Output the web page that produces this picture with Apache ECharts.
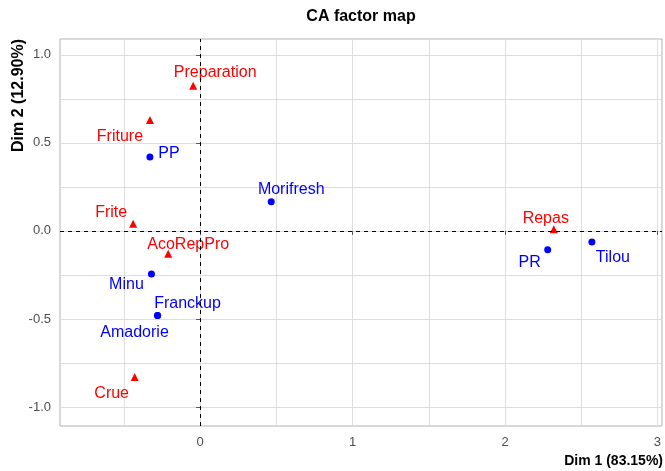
<!DOCTYPE html>
<html>
<head>
<meta charset="utf-8">
<script src="https://cdn.jsdelivr.net/npm/echarts@6/dist/echarts.min.js"></script>
<style>html,body{margin:0;padding:0;background:#fff}#c{width:665px;height:471px}</style>
</head>
<body>
<div id="c"></div>
<script>
// Row points (blue dots)
const rowNames = ['PP', 'Morifresh', 'Minu', 'Franckup', 'Amadorie', 'PR', 'Tilou'];
const rowDim1 = [-0.33, 0.466, -0.32, -0.28, -0.28, 2.28, 2.57];
const rowDim2 = [0.42, 0.165, -0.245, -0.48, -0.48, -0.107, -0.063];
// Column points (red triangles)
const colNames = ['Preparation', 'Friture', 'Frite', 'AcoRepPro', 'Crue', 'Repas'];
const colDim1 = [-0.046, -0.33, -0.44, -0.21, -0.43, 2.32];
const colDim2 = [0.824, 0.63, 0.04, -0.13, -0.83, 0.01];
// Axis breaks
const xMajor = [0, 1, 2, 3];
const xMinor = [-0.5, 0.5, 1.5, 2.5];
const yMajor = [-1, -0.5, 0, 0.5, 1];
const yMinor = [-0.75, -0.25, 0.25, 0.75];
const xRange = [-0.92, 3.03];
const yRange = [-1.108, 1.09];

// label placement (layout only, pixel offsets of label centre from point)
const labelOffset = {
  'Preparation': [22, -13], 'Friture': [-30, 17], 'PP': [19, -3], 'Frite': [-22, -11],
  'AcoRepPro': [20, -9], 'Minu': [-25, 11], 'Franckup': [30, -12], 'Amadorie': [-23, 17],
  'Crue': [-23, 17], 'Morifresh': [20, -12], 'Repas': [-8, -11], 'PR': [-18, 13], 'Tilou': [21, 16]
};

function pts(names, xs, ys, color) {
  return names.map((n, i) => ({
    name: n,
    value: [xs[i], ys[i]],
    label: {
      show: true, formatter: n, position: 'inside', offset: labelOffset[n],
      color: color, fontSize: 16, fontFamily: 'Liberation Sans, Arial, sans-serif',
      align: 'center', verticalAlign: 'middle', opacity: 1
    }
  }));
}

const grid = { left: 60, right: 3, top: 39, bottom: 45, show: true, borderColor: '#b3b3b3', borderWidth: 1, backgroundColor: '#fff' };
const tickLabel = { color: '#4d4d4d', fontSize: 13, fontFamily: 'Liberation Sans, Arial, sans-serif' };
const gridLine = { show: true, lineStyle: { color: '#dedede', width: 1 } };
const tickLine = { color: '#555', width: 1 };

const chart = echarts.init(document.getElementById('c'), null, { renderer: 'canvas' });
chart.setOption({
  animation: false,
  grid: grid,
  xAxis: [
    {
      type: 'value', min: xRange[0], max: xRange[1],
      axisLine: { show: false },
      axisTick: { show: true, length: 4, lineStyle: tickLine, customValues: xMajor },
      axisLabel: Object.assign({ customValues: xMajor, margin: 10, formatter: v => String(v) }, tickLabel),
      splitLine: gridLine
    },
    {
      type: 'value', min: xRange[0], max: xRange[1], position: 'bottom',
      axisLine: { show: false },
      axisTick: { show: false, customValues: xMinor },
      axisLabel: { show: false, customValues: xMinor },
      splitLine: gridLine
    }
  ],
  yAxis: [
    {
      type: 'value', min: yRange[0], max: yRange[1],
      axisLine: { show: false },
      axisTick: { show: true, length: 4, lineStyle: tickLine, customValues: yMajor },
      axisLabel: Object.assign({ customValues: yMajor, margin: 9, formatter: v => v.toFixed(1) }, tickLabel),
      splitLine: gridLine
    },
    {
      type: 'value', min: yRange[0], max: yRange[1], position: 'left',
      axisLine: { show: false },
      axisTick: { show: false, customValues: yMinor },
      axisLabel: { show: false, customValues: yMinor },
      splitLine: gridLine
    }
  ],
  series: [
    {
      type: 'scatter', symbol: 'circle', symbolSize: 7,
      itemStyle: { color: '#0000ff', opacity: 1 },
      data: pts(rowNames, rowDim1, rowDim2, '#0000ff'),
      markLine: {
        silent: true, symbol: 'none', label: { show: false },
        lineStyle: { color: '#000', type: [4, 4], width: 1, opacity: 1 },
        data: [{ xAxis: 0 }, { yAxis: 0 }]
      },
      z: 3
    },
    {
      type: 'scatter', symbol: 'triangle', symbolSize: 8,
      itemStyle: { color: '#ff0000', opacity: 1 },
      data: pts(colNames, colDim1, colDim2, '#ff0000'),
      z: 3
    }
  ],
  graphic: [
    { type: 'text', x: 361, y: 17, style: { text: 'CA factor map', fill: '#000', font: 'bold 16px Liberation Sans, Arial, sans-serif', align: 'center', verticalAlign: 'middle' } },
    { type: 'text', x: 663, y: 461, style: { text: 'Dim 1 (83.15%)', fill: '#000', font: 'bold 14px Liberation Sans, Arial, sans-serif', align: 'right', verticalAlign: 'middle' } },
    { type: 'text', x: 19, y: 39, rotation: Math.PI / 2, style: { text: 'Dim 2 (12.90%)', fill: '#000', font: 'bold 16px Liberation Sans, Arial, sans-serif', align: 'right', verticalAlign: 'middle' } }
  ]
});
</script>
</body>
</html>
